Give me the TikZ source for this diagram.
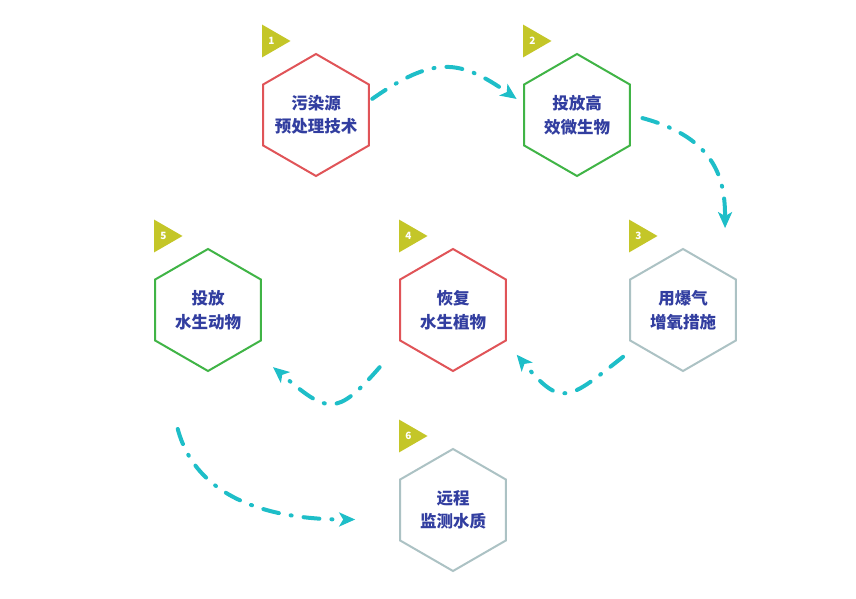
\documentclass[tikz,border=0pt]{standalone}
\usepackage{fontspec}
\newfontfamily\cjk{Noto Sans CJK SC}
\usetikzlibrary{shapes.geometric, arrows.meta}

\definecolor{redline}{RGB}{224,84,88}
\definecolor{greenline}{RGB}{64,180,70}
\definecolor{greyline}{RGB}{172,194,196}
\definecolor{textblue}{RGB}{50,62,160}
\definecolor{flowcyan}{RGB}{30,190,200}
\definecolor{badgeyellow}{RGB}{196,198,40}

\begin{document}
\begin{tikzpicture}[
    x=1pt, y=1pt,
    hexa/.style={regular polygon, regular polygon sides=6, shape border rotate=30, minimum size=122pt, inner sep=-12pt, line width=2pt, fill=white, align=center, text=textblue, font=\cjk\bfseries\fontsize{16.5}{23.5}\selectfont},
    badge/.style={regular polygon, regular polygon sides=3, shape border rotate=-90, minimum size=38pt, inner sep=0pt, fill=badgeyellow, text=white, font=\cjk\bfseries\fontsize{10}{10}\selectfont},
    flow/.style={draw=flowcyan, line width=4pt, line cap=round, dash pattern=on 16pt off 12pt on 1pt off 12pt, -{Stealth[length=16pt, width=14pt, inset=4pt]}}
]
\useasboundingbox (0,0) rectangle (856,599);

\node[hexa, draw=redline] (pretreat) at (316,484) {污染源\\预处理技术};
\node[hexa, draw=greenline] (microbe) at (577,484) {投放高\\效微生物};
\node[hexa, draw=greyline] (aerate) at (683,289) {用爆气\\增氧措施};
\node[hexa, draw=redline] (plant) at (453,289) {恢复\\水生植物};
\node[hexa, draw=greenline] (animal) at (208,289) {投放\\水生动物};
\node[hexa, draw=greyline] (monitor) at (453,89) {远程\\监测水质};

\node[badge] (n1) at ([shift={(-44.5,74)}]pretreat.center) {1};
\node[badge] (n2) at ([shift={(-44.5,74)}]microbe.center) {2};
\node[badge] (n3) at ([shift={(-44.5,74)}]aerate.center) {3};
\node[badge] (n4) at ([shift={(-44.5,74)}]plant.center) {4};
\node[badge] (n5) at ([shift={(-44.5,74)}]animal.center) {5};
\node[badge] (n6) at ([shift={(-44.5,74)}]monitor.center) {6};

\draw[flow, shorten <=3pt, shorten >=8pt] (pretreat.15) to[out=35, in=145, looseness=1.3] (microbe.168);
\draw[flow, shorten <=12pt, shorten >=44pt] (microbe.east) to[out=-15, in=90, out distance=90pt, in distance=90pt] (aerate.42);
\draw[flow, shorten <=18pt, shorten >=17pt] (aerate.218) to[out=218, in=-50, looseness=1.7] (plant.-31);
\draw[flow, shorten <=33pt, shorten >=30pt] (plant.212) to[out=229, in=-40, looseness=1.7] (animal.-42);
\draw[flow, shorten <=91pt, shorten >=44pt] (animal.210) to[out=-75, in=180, out distance=171pt, in distance=114pt] (monitor.190);

\end{tikzpicture}
\end{document}
